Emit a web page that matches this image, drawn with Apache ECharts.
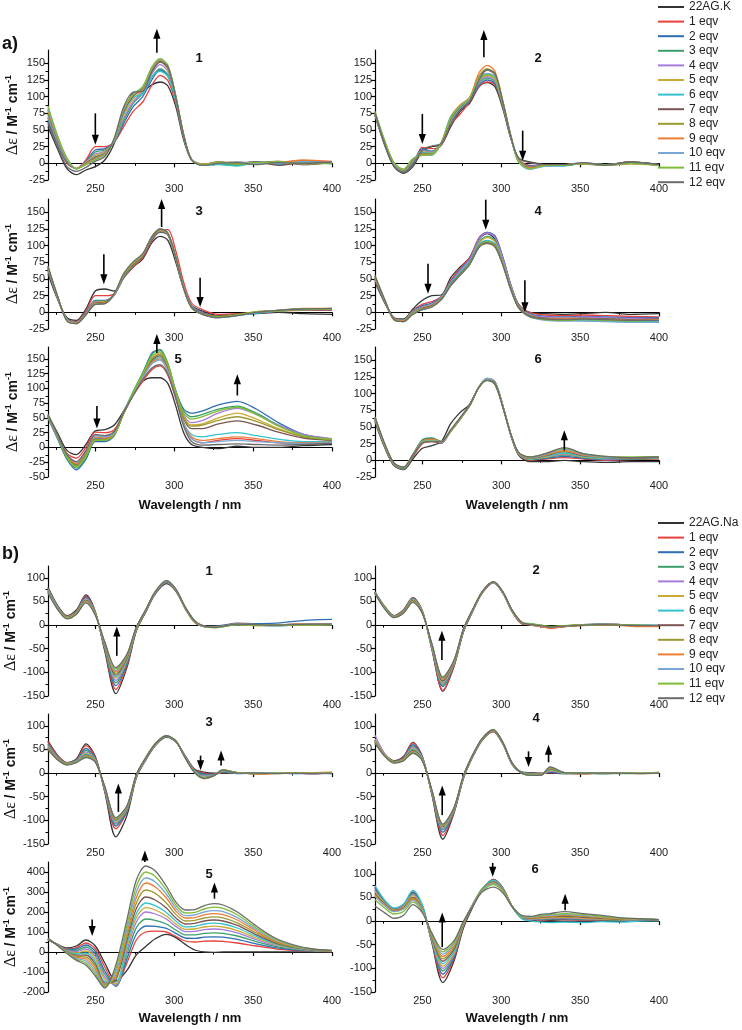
<!DOCTYPE html>
<html>
<head>
<meta charset="utf-8">
<script src="https://cdn.jsdelivr.net/npm/echarts@6/dist/echarts.min.js"></script>
<style>
  html, body { margin: 0; padding: 0; background: #fff; }
  #chart { width: 742px; height: 1030px; }
</style>
</head>
<body>
<div id="chart"></div>
<script>
// wavelengths (nm) the curves were read at
const waveK = [220,226,232,238,244,250,256,262,268,274,280,286,291,296,301,306,311,318,328,340,352,366,382,400];
const waveNa = [220,226,232,238,244,250,256,263,270,276,282,288,295,301,307,313,319,325,331,340,352,364,376,388,400];

const eqNames = ['1 eqv','2 eqv','3 eqv','4 eqv','5 eqv','6 eqv','7 eqv','8 eqv','9 eqv','10 eqv','11 eqv','12 eqv'];
const colors = ['#333333','#e8403b','#2f6db5','#3aa06b','#a67bdb','#ccaa33','#35c2cf','#7a5552','#9c9a2e','#ee7d34','#79a7d4','#7dbd36','#6b6b6b'];

// tick labels
const xTicks = [250, 300, 350, 400];
const xMinor = [225, 275, 325, 375];
const yTicksK = [-25, 0, 25, 50, 75, 100, 125, 150];
const yTicksK5 = [-50, -25, 0, 25, 50, 75, 100, 125, 150];
const yTicksNa = [-150, -100, -50, 0, 50, 100];
const yTicksNa5 = [-200, -100, 0, 100, 200, 300, 400];

// a) 22AG.K titrations, rows: 22AG.K, 1..12 eqv
const k1 = [
  [55, 22, -8, -17, -10, -5, 5, 30, 75, 106, 108, 118, 122, 116, 85, 35, 5, -3, 2, -2, 1, 3, -2, 2],
  [62, 28, 0, -8, 5, 25, 25, 32, 55, 78, 92, 118, 132, 124, 90, 38, 6, -2, 0, 1, -1, 2, 4, 3],
  [65, 30, 2, -8, 3, 20, 22, 32, 60, 85, 100, 126, 140, 131, 94, 40, 6, -1, 1, 0, 2, -2, 3, 1],
  [68, 32, 3, -8, 2, 17, 20, 33, 64, 90, 105, 130, 142, 133, 95, 40, 6, -2, -1, -3, 1, 0, 2, 0],
  [70, 33, 4, -8, 2, 14, 18, 33, 68, 93, 108, 135, 148, 138, 97, 41, 6, -2, 2, 0, 0, 1, -1, 2],
  [72, 35, 5, -8, 1, 12, 17, 34, 72, 97, 110, 138, 152, 141, 99, 42, 6, -1, 1, 2, -1, 3, 1, 0],
  [74, 36, 5, -8, 0, 10, 15, 34, 75, 99, 104, 130, 138, 130, 94, 40, 5, -3, -2, -4, 1, -1, 2, -1],
  [76, 37, 6, -8, 0, 9, 15, 35, 78, 101, 112, 140, 153, 143, 99, 42, 5, -2, 1, 1, 2, -3, 1, 1],
  [78, 38, 6, -8, -1, 8, 14, 35, 80, 103, 113, 142, 155, 145, 100, 42, 5, -2, 2, -1, 0, 2, -1, 0],
  [80, 39, 7, -8, -1, 7, 14, 36, 81, 103, 114, 143, 155, 145, 100, 43, 5, -1, 1, 0, 1, 1, 5, 2],
  [82, 40, 7, -8, -2, 6, 13, 36, 82, 104, 114, 144, 156, 146, 101, 43, 5, -2, 0, 2, 0, 0, 2, 1],
  [86, 42, 8, -8, -2, 5, 12, 36, 83, 104, 115, 145, 157, 147, 101, 43, 5, -2, 1, -1, 1, 2, 0, 1],
  [60, 25, -5, -12, -6, 3, 10, 38, 85, 107, 108, 138, 152, 145, 99, 42, 5, -3, 0, 1, -2, 1, 0, 2]
];
const k2 = [
  [72, 28, -5, -15, -5, 18, 25, 28, 55, 78, 90, 115, 121, 115, 82, 38, 8, 2, -2, -3, 0, -2, 2, -2],
  [72, 30, -3, -13, -2, 24, 22, 27, 58, 74, 92, 115, 122, 118, 85, 40, 6, -3, -3, -2, -1, -3, 0, -3],
  [73, 30, -3, -12, 0, 22, 18, 28, 62, 80, 94, 117, 125, 120, 86, 40, 5, -4, -2, -3, 0, -2, 1, -2],
  [74, 31, -2, -12, 2, 20, 18, 29, 63, 82, 95, 120, 128, 122, 87, 40, 5, -5, -3, -2, 0, -3, 1, -3],
  [74, 31, -2, -11, 3, 19, 17, 29, 64, 83, 96, 122, 130, 124, 88, 41, 4, -5, -2, -3, 1, -2, 0, -2],
  [75, 32, -1, -11, 4, 17, 16, 30, 65, 84, 97, 124, 132, 126, 89, 41, 4, -6, -3, -2, 0, -3, -1, -3],
  [75, 32, -1, -10, 5, 16, 15, 30, 66, 84, 97, 125, 134, 128, 90, 41, 3, -7, -4, -4, 0, -3, 0, -3],
  [76, 33, 0, -10, 5, 15, 14, 30, 67, 85, 98, 130, 140, 133, 92, 42, 3, -6, -3, -3, 0, -2, 2, -2],
  [76, 33, 0, -10, 6, 14, 14, 30, 68, 86, 98, 131, 142, 134, 92, 42, 3, -7, -3, -2, -1, -3, 1, -3],
  [77, 34, 0, -9, 6, 13, 13, 31, 70, 88, 99, 136, 147, 138, 94, 43, 2, -7, -4, -2, 0, -3, 0, -2],
  [77, 34, 0, -9, 7, 12, 12, 31, 70, 86, 98, 128, 135, 130, 91, 42, 2, -9, -4, -3, 0, -3, 1, -3],
  [78, 35, 1, -9, 7, 12, 13, 31, 69, 86, 98, 127, 133, 128, 90, 42, 3, -8, -3, -3, 0, -2, 0, -3],
  [76, 30, -4, -14, -3, 20, 26, 30, 58, 80, 93, 125, 140, 135, 92, 41, 8, 1, -2, -2, 1, -3, 2, -2]
];
const k3 = [
  [58, 20, -8, -12, 5, 32, 35, 32, 52, 68, 80, 105, 114, 108, 75, 35, 10, 2, -5, -3, -2, 0, -2, -3],
  [62, 22, -10, -14, 2, 25, 25, 28, 52, 68, 82, 108, 122, 124, 92, 45, 14, 4, -3, -2, 0, 2, 3, 3],
  [64, 22, -10, -15, 0, 18, 18, 26, 52, 70, 84, 110, 120, 116, 82, 38, 10, 0, -6, -4, -1, 2, 4, 4],
  [65, 22, -11, -15, -1, 17, 17, 26, 53, 70, 85, 111, 121, 117, 82, 38, 9, -1, -6, -3, 0, 3, 4, 5],
  [65, 22, -11, -15, -1, 16, 16, 26, 54, 72, 86, 112, 122, 117, 82, 38, 9, -1, -7, -4, 0, 2, 5, 4],
  [66, 23, -11, -16, -2, 15, 16, 27, 55, 72, 86, 112, 122, 118, 82, 37, 8, -2, -6, -3, 0, 3, 4, 5],
  [66, 23, -12, -16, -2, 14, 15, 27, 58, 74, 87, 113, 123, 118, 82, 37, 8, -3, -8, -5, -1, 2, 4, 5],
  [67, 23, -12, -16, -2, 14, 15, 27, 55, 72, 85, 112, 121, 116, 80, 36, 8, -2, -6, -3, 0, 3, 5, 4],
  [67, 24, -12, -16, -3, 13, 14, 27, 56, 73, 86, 113, 122, 117, 81, 36, 7, -3, -7, -4, 0, 2, 4, 5],
  [68, 24, -12, -16, -3, 13, 14, 27, 56, 74, 86, 113, 123, 118, 81, 36, 7, -3, -7, -4, 1, 3, 6, 6],
  [68, 24, -12, -17, -3, 12, 13, 27, 57, 75, 87, 114, 124, 118, 81, 36, 7, -3, -8, -5, 0, 3, 5, 6],
  [69, 25, -13, -17, -4, 12, 13, 28, 57, 75, 87, 114, 125, 119, 82, 36, 7, -3, -7, -4, 1, 2, 5, 5],
  [69, 25, -13, -17, -4, 12, 13, 28, 58, 76, 88, 114, 125, 119, 82, 36, 7, -3, -8, -5, 0, 3, 5, 6]
];
const k4 = [
  [45, 15, -8, -10, 5, 18, 25, 26, 52, 68, 82, 110, 118, 110, 78, 40, 12, 0, -2, -3, -2, 0, -3, -2],
  [48, 16, -8, -11, 3, 12, 16, 24, 48, 66, 82, 112, 120, 114, 82, 42, 12, 0, -4, -5, -4, -5, -6, -7],
  [50, 17, -9, -11, 2, 10, 14, 23, 46, 64, 80, 111, 120, 115, 83, 42, 11, -2, -6, -7, -6, -7, -8, -8],
  [50, 17, -9, -12, 1, 8, 12, 22, 44, 62, 78, 106, 114, 108, 78, 40, 10, -3, -8, -8, -8, -9, -10, -10],
  [51, 18, -9, -12, 1, 8, 12, 22, 45, 63, 79, 110, 119, 113, 81, 41, 10, -3, -7, -8, -7, -8, -9, -9],
  [51, 18, -10, -12, 0, 7, 11, 21, 43, 60, 76, 104, 112, 106, 76, 38, 9, -4, -9, -9, -9, -10, -11, -11],
  [52, 18, -10, -13, 0, 6, 10, 21, 44, 60, 76, 102, 108, 103, 74, 37, 8, -5, -11, -12, -12, -13, -14, -14],
  [52, 18, -10, -13, -1, 6, 10, 20, 42, 58, 74, 100, 106, 101, 73, 36, 8, -5, -9, -10, -9, -10, -11, -10],
  [53, 19, -10, -13, -1, 5, 9, 20, 41, 57, 73, 98, 103, 98, 71, 35, 7, -6, -10, -11, -10, -11, -12, -12],
  [53, 19, -11, -13, -2, 5, 9, 20, 40, 56, 72, 98, 104, 99, 72, 35, 7, -6, -10, -10, -10, -11, -12, -11],
  [54, 19, -11, -14, -2, 4, 8, 19, 40, 56, 72, 98, 105, 100, 72, 35, 7, -7, -12, -13, -13, -14, -15, -15],
  [55, 20, -11, -14, -2, 4, 8, 19, 41, 57, 73, 99, 106, 100, 72, 35, 7, -6, -11, -12, -11, -12, -13, -12],
  [55, 20, -11, -14, -3, 4, 8, 19, 40, 56, 72, 98, 104, 99, 71, 35, 7, -6, -10, -11, -10, -11, -12, -12]
];
const k5 = [
  [55, 25, -5, -12, 5, 28, 30, 38, 62, 90, 112, 118, 118, 108, 70, 25, 5, 0, -2, 2, 0, 0, 3, 5],
  [52, 20, -10, -18, 0, 26, 25, 30, 58, 88, 112, 132, 138, 122, 82, 40, 15, 8, 12, 15, 12, 8, 6, 8],
  [50, 15, -20, -38, -20, 10, 10, 20, 58, 92, 125, 160, 165, 140, 95, 65, 58, 62, 72, 78, 65, 42, 22, 14],
  [50, 16, -18, -35, -18, 12, 12, 22, 60, 95, 126, 158, 166, 142, 96, 62, 52, 56, 65, 70, 58, 38, 20, 14],
  [52, 18, -15, -30, -12, 20, 18, 25, 60, 92, 122, 150, 158, 138, 92, 55, 42, 46, 58, 66, 56, 38, 22, 15],
  [52, 18, -16, -32, -14, 15, 14, 22, 58, 92, 122, 152, 160, 138, 92, 52, 38, 40, 50, 58, 48, 32, 18, 12],
  [53, 19, -14, -28, -10, 16, 15, 24, 60, 92, 120, 146, 152, 132, 88, 42, 22, 18, 22, 25, 20, 14, 10, 10],
  [53, 19, -14, -30, -12, 14, 14, 23, 58, 90, 120, 148, 155, 135, 90, 48, 32, 32, 40, 45, 38, 26, 16, 12],
  [54, 20, -15, -31, -13, 13, 13, 22, 58, 91, 122, 150, 157, 137, 91, 50, 36, 38, 46, 52, 44, 30, 18, 13],
  [54, 20, -13, -27, -8, 18, 16, 24, 60, 90, 118, 144, 150, 130, 86, 40, 18, 12, 15, 18, 15, 10, 8, 9],
  [55, 20, -12, -25, -6, 20, 18, 25, 60, 90, 118, 142, 148, 128, 85, 38, 15, 8, 10, 12, 10, 8, 7, 8],
  [55, 21, -16, -33, -15, 12, 12, 22, 58, 93, 124, 155, 162, 140, 94, 58, 48, 52, 62, 68, 56, 36, 20, 14],
  [56, 22, -12, -24, -5, 22, 20, 27, 60, 88, 115, 135, 140, 124, 84, 36, 10, 4, 5, 6, 5, 4, 5, 7]
];
const k6 = [
  [58, 20, -8, -14, 2, 18, 22, 28, 55, 72, 84, 110, 120, 114, 80, 38, 8, -2, -2, 0, -2, -3, -2, -2],
  [60, 22, -7, -13, 5, 25, 28, 26, 45, 64, 84, 110, 122, 117, 82, 39, 9, 0, 2, 4, 2, 0, 1, 2],
  [61, 22, -7, -13, 6, 27, 30, 26, 44, 63, 83, 110, 122, 117, 82, 39, 9, 1, 3, 6, 3, 1, 2, 3],
  [61, 23, -6, -13, 7, 28, 31, 27, 44, 63, 83, 111, 123, 118, 82, 40, 10, 1, 4, 8, 4, 2, 2, 3],
  [62, 23, -6, -12, 7, 28, 31, 27, 44, 62, 83, 111, 123, 118, 82, 40, 10, 2, 5, 9, 5, 2, 3, 4],
  [62, 23, -6, -12, 8, 29, 32, 27, 43, 62, 82, 110, 122, 117, 82, 40, 10, 2, 5, 10, 5, 3, 3, 4],
  [63, 24, -5, -12, 9, 31, 34, 28, 44, 62, 82, 110, 122, 117, 82, 40, 10, 2, 6, 11, 6, 3, 3, 4],
  [63, 24, -5, -12, 8, 30, 33, 28, 44, 62, 82, 110, 121, 116, 81, 40, 11, 3, 7, 13, 7, 4, 3, 5],
  [63, 24, -5, -11, 8, 29, 32, 28, 44, 62, 82, 110, 121, 116, 81, 40, 11, 3, 8, 14, 8, 4, 4, 5],
  [64, 25, -5, -11, 8, 28, 31, 28, 45, 63, 82, 110, 121, 116, 81, 40, 11, 4, 8, 15, 8, 5, 4, 5],
  [64, 25, -4, -11, 9, 28, 30, 28, 45, 63, 82, 110, 121, 116, 81, 40, 12, 4, 9, 17, 9, 5, 4, 5],
  [65, 25, -4, -11, 9, 27, 29, 28, 45, 63, 82, 110, 120, 115, 80, 40, 12, 5, 10, 18, 10, 6, 5, 5],
  [65, 26, -4, -10, 8, 26, 28, 28, 46, 64, 83, 110, 120, 115, 80, 40, 12, 5, 10, 19, 10, 6, 4, 5]
];

// b) 22AG.Na titrations, rows: 22AG.Na, 1..12 eqv
const na1 = [
  [80, 42, 20, 32, 64, 28, -55, -145, -90, -12, 28, 66, 88, 72, 35, 6, -3, -4, -1, 3, 1, 0, 2, 1, 0],
  [78, 40, 19, 30, 61, 27, -52, -136, -86, -11, 29, 67, 90, 73, 35, 6, -3, -4, -2, 2, 0, -1, 1, 2, 1],
  [77, 40, 18, 29, 59, 26, -50, -128, -82, -10, 29, 67, 90, 73, 36, 7, -2, -2, 0, 4, 3, 4, 8, 11, 12],
  [76, 39, 18, 28, 57, 26, -48, -122, -79, -9, 30, 68, 91, 74, 36, 7, -3, -4, -2, 1, 0, -1, 0, 1, 2],
  [75, 38, 17, 27, 56, 25, -46, -117, -76, -8, 30, 68, 91, 74, 36, 7, -3, -4, -2, 1, 0, 0, 1, 1, 2],
  [74, 38, 17, 27, 54, 25, -44, -112, -74, -8, 31, 69, 92, 74, 36, 7, -3, -5, -2, 2, -1, 0, 1, 0, 1],
  [73, 37, 16, 26, 53, 24, -43, -109, -72, -7, 31, 69, 92, 75, 37, 8, -3, -5, -3, 1, 0, -1, 0, 1, 1],
  [72, 36, 16, 26, 52, 24, -42, -106, -70, -7, 31, 69, 92, 75, 37, 8, -2, -4, -2, 2, 0, 0, 1, 2, 2],
  [71, 36, 15, 25, 51, 23, -40, -102, -68, -6, 32, 70, 93, 75, 37, 8, -3, -5, -3, 1, -1, 0, 0, 1, 1],
  [70, 35, 15, 25, 50, 23, -39, -99, -66, -6, 32, 70, 93, 75, 37, 8, -2, -4, -2, 3, 1, 0, 2, 3, 3],
  [70, 35, 14, 24, 49, 22, -38, -96, -64, -5, 32, 70, 93, 76, 38, 9, -3, -5, -3, 2, 0, -1, 1, 2, 2],
  [69, 34, 14, 24, 48, 22, -37, -93, -63, -5, 33, 71, 94, 76, 38, 9, -3, -6, -3, 1, 0, 0, 0, 1, 1],
  [68, 34, 13, 23, 47, 21, -36, -90, -62, -4, 33, 71, 94, 76, 38, 9, -2, -5, -2, 2, 1, 0, 1, 2, 2]
];
const na2 = [
  [70, 40, 20, 32, 58, 30, -50, -140, -88, -15, 30, 68, 90, 68, 28, 3, 0, -3, -5, -2, 1, 2, 1, 0, -2],
  [70, 40, 20, 31, 58, 30, -50, -138, -87, -14, 30, 68, 90, 68, 28, 3, 2, -2, -7, -3, 0, 1, 0, -1, -1],
  [70, 39, 19, 30, 57, 29, -48, -130, -84, -13, 31, 69, 91, 69, 29, 4, 1, -2, -5, -2, 1, 2, 1, 0, -1],
  [70, 39, 19, 30, 56, 29, -47, -127, -83, -13, 31, 69, 91, 69, 30, 5, 3, 0, -4, -2, 0, 2, 0, -1, 0],
  [69, 38, 18, 29, 55, 28, -46, -124, -82, -12, 31, 69, 90, 69, 29, 4, 2, -2, -5, -3, 0, 1, 1, 0, -1],
  [69, 38, 18, 29, 54, 28, -45, -122, -81, -12, 32, 70, 91, 69, 29, 4, 1, -2, -4, -2, 1, 2, 1, -1, -1],
  [69, 38, 18, 28, 53, 27, -44, -120, -80, -11, 32, 70, 91, 70, 30, 5, 2, -1, -4, -2, 0, 1, 0, 0, -1],
  [68, 37, 17, 28, 52, 27, -43, -118, -79, -11, 32, 70, 91, 70, 30, 5, 1, -2, -5, -3, 0, 2, 1, -1, -2],
  [68, 37, 17, 27, 51, 26, -42, -113, -77, -10, 33, 70, 92, 70, 30, 5, 2, -1, -4, -2, 1, 1, 0, -1, -1],
  [68, 36, 17, 27, 50, 26, -41, -115, -78, -10, 33, 70, 92, 70, 30, 5, 0, -3, -6, -3, -1, 0, -1, -3, -3],
  [67, 36, 16, 26, 49, 25, -40, -112, -76, -10, 33, 71, 92, 70, 31, 6, 1, -1, -4, -2, 0, 2, 1, 0, 0],
  [67, 36, 16, 26, 49, 25, -40, -111, -76, -9, 33, 71, 92, 71, 31, 6, 2, 0, -3, -1, 0, 1, 1, 0, -1],
  [67, 35, 16, 25, 48, 25, -39, -110, -75, -9, 34, 71, 92, 71, 31, 6, 1, -1, -4, -2, 0, 1, 0, -1, -1]
];
const na3 = [
  [68, 38, 22, 30, 62, 35, -40, -135, -90, -10, 28, 58, 76, 66, 36, 8, 2, 0, 0, 0, -1, 0, 1, 0, 0],
  [66, 37, 22, 28, 58, 33, -38, -118, -82, -8, 29, 59, 77, 67, 36, 7, 0, -2, 1, 0, 0, 1, 0, -1, 1],
  [62, 35, 21, 27, 52, 31, -36, -112, -80, -7, 29, 59, 77, 67, 35, 6, -2, -3, 2, -1, 0, 0, 0, 0, 0],
  [60, 34, 21, 26, 48, 30, -35, -108, -78, -7, 30, 60, 77, 67, 34, 5, -4, -4, 3, 0, -1, 0, 1, 0, -1],
  [58, 33, 20, 26, 45, 28, -34, -105, -76, -6, 30, 60, 78, 67, 34, 4, -6, -4, 4, 1, 0, 1, 0, -1, 0],
  [56, 32, 20, 25, 42, 27, -33, -102, -75, -6, 31, 60, 78, 67, 33, 3, -8, -5, 5, 1, -1, 0, 0, 0, 0],
  [55, 31, 19, 25, 40, 26, -32, -100, -74, -5, 31, 61, 78, 67, 33, 3, -9, -5, 5, 0, 0, 1, -1, 0, -1],
  [54, 31, 19, 24, 38, 26, -31, -99, -73, -5, 31, 61, 78, 68, 33, 2, -10, -5, 6, 1, -1, 0, 0, -1, 0],
  [53, 30, 19, 24, 37, 25, -31, -98, -72, -5, 32, 61, 78, 68, 33, 2, -10, -6, 6, 0, 0, 0, 1, 0, 0],
  [52, 30, 18, 23, 36, 25, -30, -97, -72, -4, 32, 61, 79, 68, 32, 1, -12, -6, 6, 1, -2, -1, 0, 1, 2],
  [51, 29, 18, 23, 35, 24, -30, -96, -71, -4, 32, 62, 79, 68, 32, 1, -11, -5, 7, 0, 0, 0, -1, 0, -1],
  [50, 29, 18, 23, 34, 24, -29, -95, -70, -4, 33, 62, 79, 68, 32, 1, -11, -6, 7, 1, -1, 0, 0, 0, 0],
  [50, 28, 17, 22, 33, 23, -29, -94, -70, -3, 33, 62, 79, 68, 32, 1, -11, -6, 7, 0, 0, -1, 0, -1, 0]
];
const na4 = [
  [62, 40, 26, 35, 65, 35, -45, -140, -85, -12, 35, 70, 88, 62, 18, 2, 1, 0, 0, -1, 0, -1, 0, 1, 0],
  [65, 40, 25, 33, 64, 34, -43, -132, -83, -11, 35, 70, 88, 62, 19, 2, 0, -1, 1, 0, -1, 0, 0, 0, 1],
  [68, 40, 25, 32, 60, 33, -42, -125, -81, -10, 36, 71, 89, 63, 19, 2, 0, -2, 2, -1, 0, 0, 1, 0, 0],
  [70, 40, 24, 31, 57, 32, -41, -120, -80, -10, 36, 71, 89, 63, 19, 1, -1, -2, 4, 0, -1, 0, -1, 0, 1],
  [80, 42, 24, 30, 55, 31, -40, -118, -79, -9, 37, 72, 90, 63, 19, 1, -2, -3, 5, 0, 0, 1, 0, 0, 0],
  [72, 40, 24, 30, 52, 30, -39, -116, -78, -9, 37, 72, 90, 64, 20, 1, -2, -3, 6, 0, -1, 0, 0, -1, 0],
  [70, 39, 23, 29, 50, 29, -38, -114, -77, -8, 37, 72, 91, 64, 20, 0, -3, -4, 8, 0, 0, -1, 0, 0, 1],
  [69, 39, 23, 29, 48, 28, -38, -113, -76, -8, 38, 72, 91, 64, 20, 0, -3, -4, 9, 0, -1, 0, 1, 0, 0],
  [68, 38, 23, 28, 46, 28, -37, -112, -76, -8, 38, 73, 91, 64, 20, 0, -4, -4, 10, 0, 0, 0, 0, 0, 0],
  [67, 38, 22, 28, 45, 27, -37, -111, -75, -7, 38, 73, 91, 65, 20, 0, -4, -4, 11, 1, -1, 0, 0, 0, 2],
  [66, 37, 22, 27, 44, 27, -36, -110, -75, -7, 38, 73, 92, 65, 21, 0, -4, -5, 12, 1, 0, 0, 0, 0, 0],
  [65, 37, 22, 27, 43, 26, -36, -109, -74, -7, 39, 73, 92, 65, 21, 0, -4, -5, 12, 0, 0, -1, 0, 0, 0],
  [64, 36, 21, 26, 42, 26, -35, -108, -74, -6, 39, 74, 92, 65, 21, 0, -5, -5, 13, 1, 0, 0, 0, -1, 0]
];
const na5 = [
  [60, 38, 20, 30, 60, 30, -55, -145, -92, -14, 28, 66, 88, 72, 38, 10, 0, -2, 0, 1, 0, 0, 1, 0, 0],
  [62, 38, 16, 22, 45, 15, -75, -168, -55, 60, 100, 104, 100, 78, 55, 50, 54, 55, 53, 45, 30, 16, 8, 4, 2],
  [63, 38, 13, 15, 35, 2, -95, -172, -35, 90, 130, 128, 118, 93, 70, 68, 74, 76, 74, 63, 41, 22, 11, 5, 3],
  [63, 37, 10, 8, 25, -10, -110, -170, -12, 122, 165, 158, 140, 110, 86, 86, 93, 96, 93, 80, 52, 28, 14, 6, 3],
  [64, 37, 8, 2, 15, -22, -125, -165, 8, 150, 200, 190, 165, 128, 102, 103, 112, 115, 112, 96, 62, 34, 17, 7, 4],
  [64, 36, 6, -4, 5, -35, -138, -158, 25, 172, 222, 210, 180, 140, 113, 115, 125, 129, 125, 107, 70, 38, 19, 8, 4],
  [64, 36, 4, -10, -5, -48, -148, -150, 40, 192, 245, 232, 198, 155, 126, 128, 140, 144, 140, 120, 78, 42, 21, 9, 5],
  [65, 35, 2, -16, -15, -60, -156, -140, 58, 218, 275, 260, 220, 170, 140, 143, 155, 160, 155, 133, 86, 46, 23, 10, 5],
  [65, 35, 0, -22, -25, -72, -163, -128, 75, 245, 310, 293, 245, 188, 155, 158, 170, 176, 171, 146, 95, 51, 25, 11, 6],
  [66, 34, -2, -27, -35, -84, -168, -115, 92, 272, 345, 325, 270, 205, 170, 172, 186, 192, 187, 160, 104, 56, 28, 12, 6],
  [66, 34, -4, -32, -45, -96, -172, -100, 112, 300, 370, 350, 290, 220, 182, 185, 200, 207, 202, 172, 112, 60, 30, 13, 7],
  [67, 33, -6, -37, -55, -108, -176, -85, 132, 328, 400, 378, 310, 235, 195, 198, 215, 224, 218, 186, 120, 65, 32, 14, 7],
  [68, 33, -8, -42, -65, -120, -180, -65, 160, 360, 430, 405, 330, 250, 210, 212, 232, 242, 235, 200, 130, 70, 35, 15, 8]
];
const na6 = [
  [72, 42, 25, 32, 60, 32, -45, -130, -85, -15, 30, 66, 88, 70, 30, 6, 2, 0, 1, 0, 0, 1, 0, 2, 0],
  [70, 42, 26, 33, 62, 32, -44, -120, -80, -12, 32, 67, 88, 70, 31, 7, 3, 2, 3, 3, 2, 2, 1, 2, 1],
  [68, 41, 25, 33, 60, 31, -43, -112, -77, -10, 33, 68, 87, 70, 31, 7, 3, 3, 4, 5, 3, 3, 2, 2, 1],
  [66, 40, 25, 32, 58, 30, -42, -105, -74, -9, 34, 68, 86, 69, 31, 7, 4, 4, 5, 6, 4, 3, 2, 2, 1],
  [64, 39, 24, 31, 56, 29, -40, -100, -71, -8, 34, 68, 86, 69, 31, 8, 4, 5, 6, 7, 5, 4, 3, 2, 2],
  [62, 38, 23, 30, 54, 28, -38, -95, -68, -7, 35, 68, 85, 68, 31, 8, 5, 6, 7, 8, 6, 5, 3, 3, 2],
  [75, 45, 28, 36, 65, 34, -36, -90, -64, -5, 36, 69, 86, 68, 30, 5, 0, -2, -3, -2, -3, -1, -2, 0, 1],
  [58, 36, 22, 28, 50, 26, -34, -85, -60, -5, 35, 67, 83, 67, 31, 9, 6, 8, 9, 10, 8, 6, 4, 3, 2],
  [56, 35, 21, 27, 48, 25, -32, -80, -56, -4, 35, 67, 82, 66, 31, 9, 7, 9, 10, 12, 10, 7, 5, 4, 3],
  [54, 34, 20, 26, 46, 24, -30, -75, -52, -3, 34, 66, 80, 65, 31, 10, 7, 10, 11, 13, 11, 8, 5, 4, 3],
  [52, 33, 20, 25, 44, 23, -28, -70, -49, -2, 34, 65, 79, 64, 31, 10, 8, 11, 12, 14, 12, 9, 6, 5, 3],
  [45, 28, 15, 20, 40, 20, -27, -65, -46, -2, 33, 64, 77, 63, 31, 11, 9, 12, 14, 16, 14, 10, 6, 5, 3],
  [32, 18, 6, 12, 35, 18, -25, -60, -42, -1, 32, 62, 72, 60, 30, 12, 10, 14, 16, 20, 16, 12, 7, 5, 3]
];

// annotation arrows: [wavelength, from, to]
const arrowsK1 = [[250, 75, 28], [289, 166, 202]];
const arrowsK2 = [[250, 74, 29], [289, 159, 200], [313.6, 49, 4]];
const arrowsK3 = [[255.4, 87, 42], [292, 128, 170], [316.4, 52, 8]];
const arrowsK4 = [[253.6, 73, 28], [290.2, 169, 124], [315, 48, 0]];
const arrowsK5 = [[251, 70, 32], [289, 160, 192], [340, 88, 124]];
const arrowsK6 = [[340, 15, 45]];
const arrowsNa1 = [[263.6, -65, -3]];
const arrowsNa2 = [[262.4, -74, -12]];
const arrowsNa3 = [[264.6, -82, -22], [316.7, 37, 6], [329.7, 16, 48]];
const arrowsNa4 = [[262.6, -89, -26], [317.3, 46, 13], [330, 23, 60]];
const arrowsNa5 = [[248, 163, 80], [281.4, 450, 508], [325.5, 267, 347]];
const arrowsNa6 = [[262.6, -55, 18], [294.6, 123, 94], [340.5, 23, 58]];

const FONT = 'Liberation Sans, Arial, sans-serif';

const panels = [
  {rows: k1, wave: waveK, base: '22AG.K', col: 0, top: 50, min: -25, max: 170, ticks: yTicksK, arrows: arrowsK1, label: '1', lx: 199, ly: 58},
  {rows: k2, wave: waveK, base: '22AG.K', col: 1, top: 50, min: -25, max: 170, ticks: yTicksK, arrows: arrowsK2, label: '2', lx: 538, ly: 58},
  {rows: k3, wave: waveK, base: '22AG.K', col: 0, top: 199, min: -25, max: 170, ticks: yTicksK, arrows: arrowsK3, label: '3', lx: 199, ly: 211},
  {rows: k4, wave: waveK, base: '22AG.K', col: 1, top: 199, min: -25, max: 170, ticks: yTicksK, arrows: arrowsK4, label: '4', lx: 538, ly: 211},
  {rows: k5, wave: waveK, base: '22AG.K', col: 0, top: 347, min: -50, max: 170, ticks: yTicksK5, arrows: arrowsK5, label: '5', lx: 178, ly: 359},
  {rows: k6, wave: waveK, base: '22AG.K', col: 1, top: 347, min: -25, max: 170, ticks: yTicksK, arrows: arrowsK6, label: '6', lx: 538, ly: 359},
  {rows: na1, wave: waveNa, base: '22AG.Na', col: 0, top: 566, min: -150, max: 125, ticks: yTicksNa, arrows: arrowsNa1, label: '1', lx: 209, ly: 571},
  {rows: na2, wave: waveNa, base: '22AG.Na', col: 1, top: 566, min: -150, max: 125, ticks: yTicksNa, arrows: arrowsNa2, label: '2', lx: 536, ly: 570},
  {rows: na3, wave: waveNa, base: '22AG.Na', col: 0, top: 714, min: -150, max: 125, ticks: yTicksNa, arrows: arrowsNa3, label: '3', lx: 209, ly: 722},
  {rows: na4, wave: waveNa, base: '22AG.Na', col: 1, top: 714, min: -150, max: 125, ticks: yTicksNa, arrows: arrowsNa4, label: '4', lx: 536, ly: 718},
  {rows: na5, wave: waveNa, base: '22AG.Na', col: 0, top: 862, min: -200, max: 450, ticks: yTicksNa5, arrows: arrowsNa5, label: '5', lx: 209, ly: 874},
  {rows: na6, wave: waveNa, base: '22AG.Na', col: 1, top: 862, min: -150, max: 125, ticks: yTicksNa, arrows: arrowsNa6, label: '6', lx: 535, ly: 869}
];

const axisLine = {show: true, lineStyle: {color: '#000', width: 1.2}};
const grids = [], xAxes = [], yAxes = [], series = [], texts = [];

panels.forEach((p, i) => {
  grids.push({left: p.col === 0 ? 48 : 375, top: p.top, width: 284, height: 130});

  xAxes.push({
    gridIndex: i, type: 'value', min: 220, max: 400, position: 'bottom',
    axisLine: axisLine,
    axisTick: {show: true, length: 4, customValues: xTicks, lineStyle: {color: '#000', width: 1.2}},
    axisLabel: {customValues: xTicks, fontSize: 11, color: '#222', fontFamily: FONT, margin: 3},
    splitLine: {show: false}
  });
  xAxes.push({
    gridIndex: i, type: 'value', min: 220, max: 400, position: 'bottom',
    axisLine: {show: false},
    axisTick: {show: true, length: 2.5, customValues: xMinor, lineStyle: {color: '#000', width: 1}},
    axisLabel: {show: false}, splitLine: {show: false}
  });

  const minor = [];
  for (let j = 0; j < p.ticks.length - 1; j++) minor.push((p.ticks[j] + p.ticks[j + 1]) / 2);

  const y = {
    gridIndex: i, type: 'value', min: p.min, max: p.max, position: 'left',
    axisLine: axisLine,
    axisTick: {show: true, length: 4, customValues: p.ticks, lineStyle: {color: '#000', width: 1.2}},
    axisLabel: {customValues: p.ticks, fontSize: 11, color: '#222', fontFamily: FONT, margin: 3},
    splitLine: {show: false}
  };
  if (p.col === 0) {
    y.name = '{d|Δε} {b|/ M}{s|-1}{b| cm}{s|-1}';
    y.nameLocation = 'middle';
    y.nameRotate = 90;
    y.nameGap = p.min === -200 ? 28 : 26;
    y.nameTextStyle = {
      rich: {
        d: {fontFamily: 'Liberation Serif', fontSize: 16, color: '#111', lineHeight: 18},
        b: {fontFamily: FONT, fontSize: 14, fontWeight: 'bold', color: '#111', lineHeight: 18},
        s: {fontFamily: FONT, fontSize: 9, fontWeight: 'bold', color: '#111', lineHeight: 10, verticalAlign: 'top'}
      }
    };
  }
  yAxes.push(y);
  yAxes.push({
    gridIndex: i, type: 'value', min: p.min, max: p.max, position: 'left',
    axisLine: {show: false},
    axisTick: {show: true, length: 2.5, customValues: minor, lineStyle: {color: '#000', width: 1}},
    axisLabel: {show: false}, splitLine: {show: false}
  });

  p.rows.forEach((row, k) => {
    series.push({
      type: 'line',
      name: k === 0 ? p.base : eqNames[k - 1],
      xAxisIndex: 2 * i, yAxisIndex: 2 * i,
      data: p.wave.map((w, j) => [w, row[j]]),
      smooth: 0.3, symbol: 'none', showSymbol: false,
      color: colors[k],
      lineStyle: {width: 1.3, color: colors[k]},
      emphasis: {disabled: true}, silent: true, clip: false
    });
  });

  texts.push({
    type: 'text', x: p.lx, y: p.ly, silent: true,
    style: {text: p.label, fontSize: 13, fontWeight: 'bold', fontFamily: FONT, fill: '#111', align: 'center', verticalAlign: 'middle'}
  });
});

texts.push({type: 'text', x: 2, y: 44, style: {text: 'a)', fontSize: 18, fontWeight: 'bold', fontFamily: FONT, fill: '#111', align: 'left', verticalAlign: 'middle'}});
texts.push({type: 'text', x: 2, y: 554, style: {text: 'b)', fontSize: 18, fontWeight: 'bold', fontFamily: FONT, fill: '#111', align: 'left', verticalAlign: 'middle'}});
[[190, 505], [517, 505], [190, 1018], [517, 1018]].forEach(pos => {
  texts.push({type: 'text', x: pos[0], y: pos[1], style: {text: 'Wavelength / nm', fontSize: 13, fontWeight: 'bold', fontFamily: FONT, fill: '#111', align: 'center', verticalAlign: 'middle'}});
});

const legendBase = {
  orient: 'vertical', left: 658, itemWidth: 26, itemHeight: 2, icon: 'rect',
  itemGap: 2.6, padding: 0, selectedMode: false,
  textStyle: {fontSize: 12, color: '#222', fontFamily: FONT, padding: [0, 0, 0, 0]}
};

const chart = echarts.init(document.getElementById('chart'));
chart.setOption({
  animation: false,
  backgroundColor: '#fff',
  grid: grids,
  xAxis: xAxes,
  yAxis: yAxes,
  legend: [
    Object.assign({}, legendBase, {top: 1, data: ['22AG.K'].concat(eqNames)}),
    Object.assign({}, legendBase, {top: 517, data: ['22AG.Na'].concat(eqNames)})
  ],
  graphic: texts,
  series: series
});

// arrows placed through each panel's own axes (they may sit above the plot box)
const arrowEls = [];
panels.forEach((p, i) => {
  const finder = {xAxisIndex: 2 * i, yAxisIndex: 2 * i};
  p.arrows.forEach(a => {
    const from = chart.convertToPixel(finder, [a[0], a[1]]);
    const to = chart.convertToPixel(finder, [a[0], a[2]]);
    const dir = to[1] > from[1] ? 1 : -1;
    const headLen = 10, headHalf = 3.6;
    const baseY = to[1] - dir * headLen;
    arrowEls.push({type: 'line', silent: true, z: 100,
      shape: {x1: from[0], y1: from[1], x2: to[0], y2: baseY + dir * 1},
      style: {stroke: '#000', lineWidth: 1.6}});
    arrowEls.push({type: 'polygon', silent: true, z: 100,
      shape: {points: [[to[0], to[1]], [to[0] - headHalf, baseY], [to[0] + headHalf, baseY]]},
      style: {fill: '#000'}});
  });
});
chart.setOption({graphic: {elements: texts.concat(arrowEls)}});
</script>
</body>
</html>
